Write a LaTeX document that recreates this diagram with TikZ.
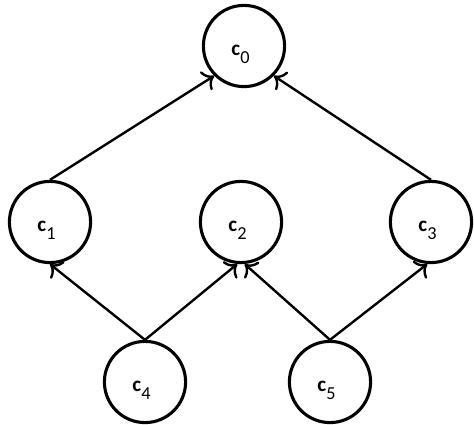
\documentclass[tikz,border=0pt]{standalone}
\usepackage{fontspec}
\setmainfont{Carlito}
\usetikzlibrary{arrows.meta}
\newcommand{\cLabel}[1]{\textbf{c}\raisebox{-0.8ex}{\fontsize{13}{14}\selectfont #1}\kern 5pt}

\begin{document}
\begin{tikzpicture}[classNode/.style = {draw, circle, line width = 2.2pt, minimum size = 2.03cm, inner sep = 0pt, text height = 14pt, text depth = 0pt, font = \fontsize{15}{17}\selectfont}, link/.style = {->, >={To[scale = 1.4]}, line width = 1.7pt}]
    \useasboundingbox (0,0) rectangle (11.85,10.625);
    \node[classNode](c0) at (6.1,9.475) {\cLabel{0}};
    \node[classNode](c1) at (1.25,5.075) {\cLabel{1}};
    \node[classNode](c2) at (6.025,5.075) {\cLabel{2}};
    \node[classNode](c3) at (10.775,5.075) {\cLabel{3}};
    \node[classNode](c4) at (3.625,1.075) {\cLabel{4}};
    \node[classNode](c5) at (8.25,1.075) {\cLabel{5}};

    \draw [link] (c1.north) -- (c0.south west);
    \draw [link] (c3.north) -- (c0.south east);
    \draw [link] (c4.north) -- (c1.south);
    \draw [link] (c4.north) -- (c2.265);
    \draw [link] (c5.north) -- (c2.275);
    \draw [link] (c5.north) -- (c3.-95);
\end{tikzpicture}
\end{document}
